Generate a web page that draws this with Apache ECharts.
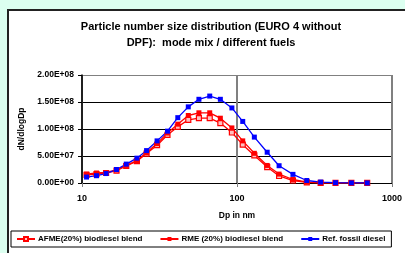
<!DOCTYPE html>
<html>
<head>
<meta charset="utf-8">
<script src="https://cdn.jsdelivr.net/npm/echarts@6/dist/echarts.min.js"></script>
<style>
  html, body { margin: 0; padding: 0; background: #dcfff0; }
  #chart { width: 405px; height: 253px; }
</style>
</head>
<body>
<div id="chart"></div>
<script>
// particle diameters (nm)
const diameters = [10.7, 12.4, 14.3, 16.7, 19.3, 22.6, 26.1, 30.5, 35.6, 41.5, 48.5, 56.8, 66.7,
    78.1, 92.7, 108.9, 129.4, 156.6, 186.9, 229.6, 282, 346.5, 432, 547, 692];
const afme = [1.5e7, 1.65e7, 1.85e7, 2.3e7, 3.15e7, 4.05e7, 5.45e7, 7.0e7, 8.9e7, 1.04e8, 1.17e8, 1.20e8, 1.20e8,
    1.11e8, 9.35e7, 7.1e7, 5.1e7, 2.95e7, 1.3e7, 4.6e6, 1.3e6, 2e5, 1e5, 5e4, 5e4];
const rme = [1.65e7, 1.85e7, 1.95e7, 2.45e7, 3.25e7, 4.15e7, 5.65e7, 7.3e7, 9.25e7, 1.09e8, 1.25e8, 1.30e8, 1.30e8,
    1.20e8, 1.02e8, 7.8e7, 5.5e7, 3.25e7, 1.65e7, 6.5e6, 1.8e6, 4e5, 1e5, 5e4, 5e4];
const fossil = [1.1e7, 1.35e7, 1.75e7, 2.5e7, 3.5e7, 4.6e7, 6.0e7, 7.8e7, 9.6e7, 1.21e8, 1.41e8, 1.55e8, 1.61e8,
    1.55e8, 1.39e8, 1.14e8, 8.5e7, 5.7e7, 3.2e7, 1.6e7, 4.6e6, 1.8e6, 6e5, 2e5, 1e5];
const seriesNames = ['AFME(20%) biodiesel blend', 'RME (20%) biodiesel blend', 'Ref. fossil diesel'];

const font = 'Liberation Sans, Arial, sans-serif';

function sci(v) {
    if (v === 0) return '0.00E+00';
    const e = Math.floor(Math.log10(v) + 1e-9);
    const m = (v / Math.pow(10, e)).toFixed(2);
    return m + 'E+' + String(e).padStart(2, '0');
}

function pairs(ys) {
    return diameters.map((d, i) => [d, ys[i]]);
}

const chart = echarts.init(document.getElementById('chart'), undefined, { renderer: 'canvas' });
chart.setOption({
    animation: false,
    backgroundColor: '#dcfff0',
    graphic: [{
        type: 'rect',
        z: -10,
        shape: { x: 8, y: 10, width: 420, height: 260 },
        style: { fill: '#ffffff', stroke: '#222222', lineWidth: 2 }
    }],
    title: {
        text: 'Particle number size distribution (EURO 4 without\nDPF):  mode mix / different fuels',
        left: 206,
        textAlign: 'center',
        top: 14,
        textStyle: { fontFamily: font, fontSize: 11, fontWeight: 'bold', color: '#000', lineHeight: 16 }
    },
    grid: { left: 82, right: 10, top: 75, bottom: 70 },
    xAxis: {
        type: 'log',
        logBase: 10,
        min: 10,
        max: 1000,
        name: 'Dp in nm',
        nameLocation: 'middle',
        nameGap: 28,
        nameTextStyle: { fontFamily: font, fontSize: 8.5, fontWeight: 'bold', color: '#000' },
        axisLine: { lineStyle: { color: '#000', width: 1 } },
        axisTick: { show: true, length: 4, lineStyle: { color: '#808080' } },
        minorTick: { show: false },
        axisLabel: {
            fontFamily: font, fontSize: 9, fontWeight: 'bold', color: '#000', margin: 11,
            formatter: v => String(Math.round(v))
        },
        splitLine: { show: true, lineStyle: { color: '#808080', width: 2 } }
    },
    yAxis: {
        type: 'value',
        min: 0,
        max: 2e8,
        interval: 5e7,
        name: 'dN/dlogDp',
        nameLocation: 'middle',
        nameGap: 50,
        nameTextStyle: { fontFamily: font, fontSize: 8.5, fontWeight: 'bold', color: '#000' },
        axisLine: { show: true, lineStyle: { color: '#000', width: 1.5 } },
        axisTick: { show: true, length: 4, lineStyle: { color: '#000' } },
        axisLabel: { fontFamily: font, fontSize: 8.5, fontWeight: 'bold', color: '#000', margin: 8, formatter: sci },
        splitLine: { show: true, lineStyle: { color: ['#000', '#000', '#000', '#000', '#808080'], width: 1 } }
    },
    legend: {
        left: 11,
        top: 231,
        itemGap: 17,
        itemWidth: 18,
        itemHeight: 5,
        padding: [4, 6, 4, 5],
        borderColor: '#000',
        borderWidth: 1,
        backgroundColor: '#fff',
        textStyle: { fontFamily: font, fontSize: 8, fontWeight: 'bold', color: '#000', padding: [0, 0, 0, -2] },
        data: seriesNames
    },
    series: [
        {
            name: seriesNames[0],
            type: 'line',
            data: pairs(afme),
            symbol: 'rect',
            symbolSize: 5,
            lineStyle: { color: '#ff0000', width: 1.3 },
            itemStyle: { color: '#ffc0c0', borderColor: '#ff0000', borderWidth: 1.2 }
        },
        {
            name: seriesNames[1],
            type: 'line',
            data: pairs(rme),
            symbol: 'rect',
            symbolSize: 5,
            lineStyle: { color: '#ff0000', width: 1.3 },
            itemStyle: { color: '#ff0000' }
        },
        {
            name: seriesNames[2],
            type: 'line',
            data: pairs(fossil),
            symbol: 'rect',
            symbolSize: 5,
            lineStyle: { color: '#0000ff', width: 1.3 },
            itemStyle: { color: '#0000ff' }
        }
    ]
});
</script>
</body>
</html>
